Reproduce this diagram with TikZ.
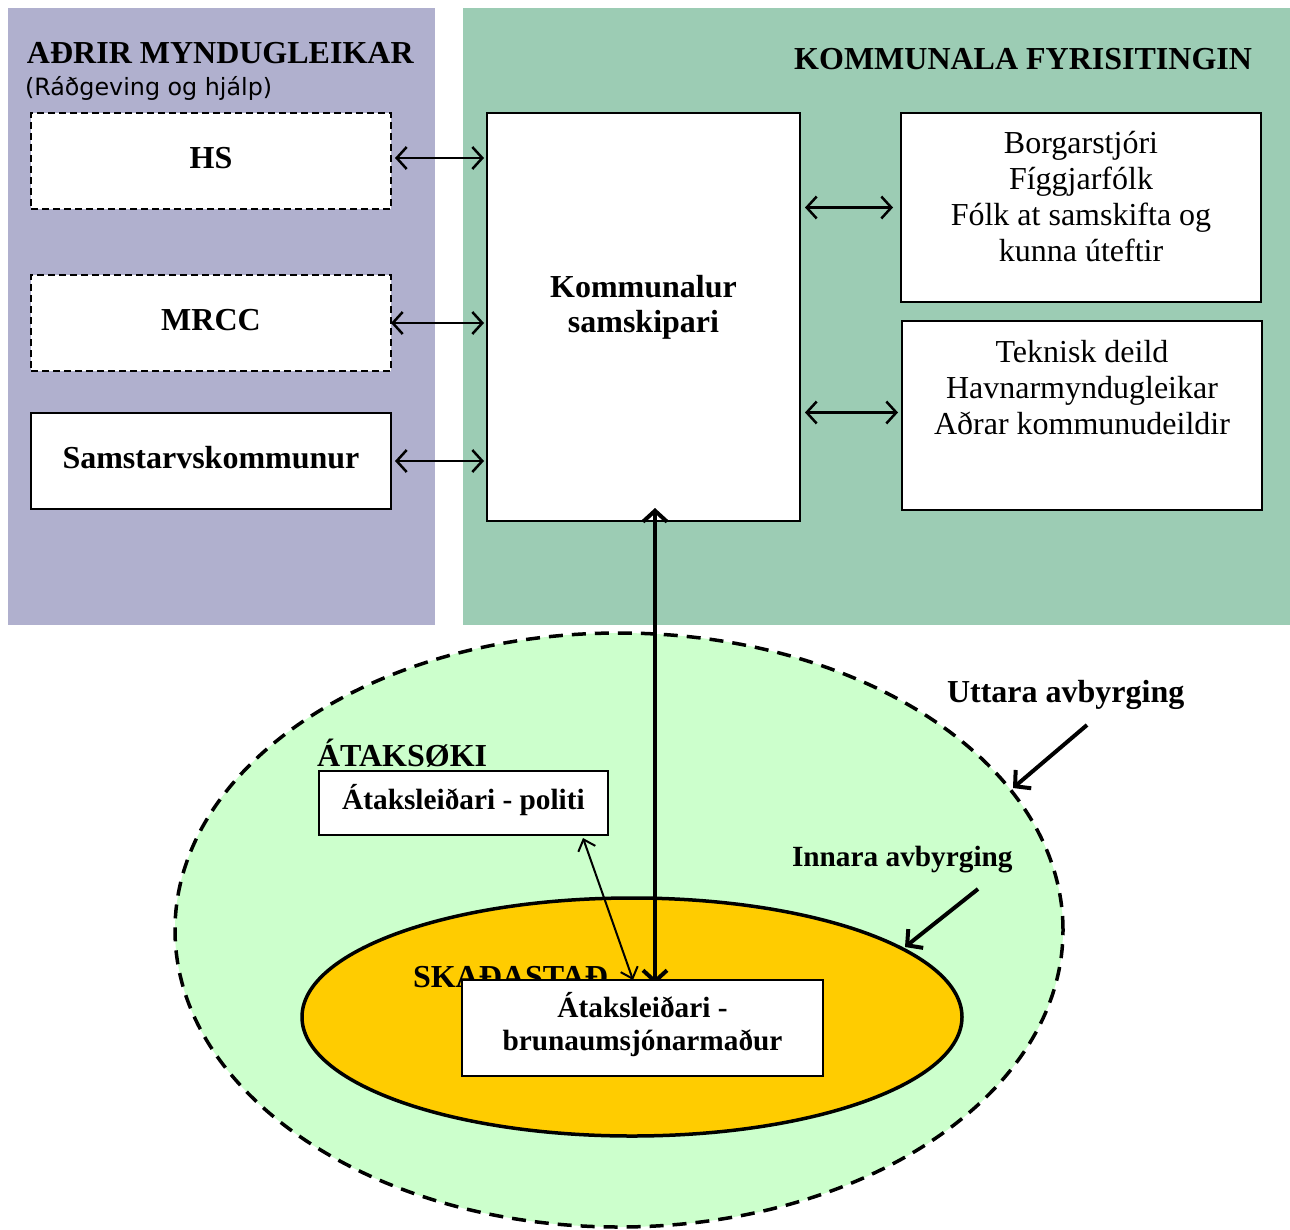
\documentclass[tikz,border=0pt]{standalone}
\usepackage{fontspec}
\setmainfont{Liberation Serif}
\newfontfamily\sansf{DejaVu Sans}
\usetikzlibrary{arrows.meta,calc}
\definecolor{leftpanel}{RGB}{176,176,206}
\definecolor{rightpanel}{RGB}{156,204,180}
\definecolor{outerzone}{RGB}{204,255,204}
\definecolor{innerzone}{RGB}{255,204,0}
\begin{document}
\begin{tikzpicture}[x=1pt,y=-1pt,
  every node/.style={inner sep=0pt, outer sep=0pt},
  regtxt/.style={font=\fontsize{32}{36}\selectfont, align=center},
  boldtxt/.style={font=\fontsize{32}{35}\selectfont\bfseries, align=center},
  smallbold/.style={font=\fontsize{29.3}{33}\selectfont\bfseries, align=center},
  box/.style={draw=black, line width=2pt, fill=white, rectangle},
  dbox/.style={box, dash pattern=on 7pt off 4pt},
  dbl/.style={line width=2.5pt, {Straight Barb[length=10pt,width=22pt]}-{Straight Barb[length=10pt,width=22pt]}},
  thinarr/.style={line width=2pt, {Straight Barb[length=10pt,width=18pt]}-{Straight Barb[length=10pt,width=18pt]}},
  thickarr/.style={line width=4pt, {Straight Barb[length=11pt,width=24pt]}-{Straight Barb[length=11pt,width=24pt]}},
  pointer/.style={line width=4pt, -{Straight Barb[length=11pt,width=24pt]}}
]
\useasboundingbox (0,0) rectangle (1290,1229);
% panels
\fill[leftpanel] (8,8) rectangle (435,625);
\fill[rightpanel] (463,8) rectangle (1290,625);

% headers
\node[boldtxt, anchor=base west] (hdrL) at (27,63) {AÐRIR MYNDUGLEIKAR};
\node[font=\sansf\fontsize{23.8}{28}\selectfont, anchor=base west] (subL) at (25,95) {(Ráðgeving og hjálp)};
\node[boldtxt, anchor=base east] (hdrR) at (1252,69) {KOMMUNALA FYRISITINGIN};

% left boxes
\node[dbox, minimum width=360pt, minimum height=96pt] (hs) at (211,161) {};
\node[boldtxt] (hst) at (211,158) {HS};
\node[dbox, minimum width=360pt, minimum height=96pt] (mrcc) at (211,323) {};
\node[boldtxt] (mrcct) at (211,320) {MRCC};
\node[box, minimum width=360pt, minimum height=96pt] (sams) at (211,461) {};
\node[boldtxt] (samst) at (211,458) {Samstarvskommunur};

% central box
\node[box, minimum width=313pt, minimum height=408pt] (ks) at (643.5,317) {};
\node[boldtxt, anchor=north] (kst) at (643.5,275) {Kommunalur\\samskipari};

% right boxes
\node[box, minimum width=360pt, minimum height=189pt] (borg) at (1081,207.5) {};
\node[regtxt, anchor=north] (borgt) at (1081,131) {Borgarstjóri\\Fíggjarfólk\\Fólk at samskifta og\\kunna úteftir};
\node[box, minimum width=360pt, minimum height=189pt] (tek) at (1082,415.5) {};
\node[regtxt, anchor=north] (tekt) at (1082,340) {Teknisk deild\\Havnarmyndugleikar\\Aðrar kommunudeildir};

% arrows to central box
\draw[dbl] ([xshift=4pt,yshift=3pt]hs.east) -- ([xshift=-3pt,yshift=3pt]ks.west |- hs.east);
\draw[dbl] ([xshift=0pt]mrcc.east) -- ([xshift=-3pt]ks.west |- mrcc.east);
\draw[dbl] ([xshift=4pt]sams.east) -- ([xshift=-3pt]ks.west |- sams.east);
\draw[dbl] ([xshift=5pt]ks.east |- borg.west) -- ([xshift=-8pt]borg.west);
\draw[dbl] ([xshift=5pt,yshift=3pt]ks.east |- tek.west) -- ([xshift=-4pt,yshift=3pt]tek.west);

% zones
\draw[fill=outerzone, line width=3.5pt, dash pattern=on 14pt off 9pt] (619,930) ellipse [x radius=444pt, y radius=297pt];
\draw[fill=innerzone, line width=3.5pt] (632,1017) ellipse [x radius=330pt, y radius=119pt];

% zone labels
\node[boldtxt, anchor=base west] (atak) at (317,766) {ÁTAKSØKI};
\node[boldtxt, anchor=base west] (skad) at (413,987) {SKAÐASTAÐ};
\node[boldtxt, anchor=base west] (utt) at (947,702) {Uttara avbyrging};
\node[smallbold, anchor=base west] (inn) at (792,866) {Innara avbyrging};
\coordinate (uttEnd) at (1013,788);
\coordinate (innEnd) at (905,947);
\draw[pointer] ($(utt.base west)+(140,23)$) -- (uttEnd);
\draw[pointer] ($(inn.base west)+(186,23)$) -- (innEnd);

% field boxes
\node[box, minimum width=289pt, minimum height=64pt] (pol) at (463.5,803) {};
\node[smallbold] (polt) at (463.5,800) {Átaksleiðari - politi};
\draw[thinarr] ($(pol.south east)+(-25,3)$) -- ($(pol.south east)+(25,145)$);
\draw[thickarr] ($(ks.south)+(11.5,463)$) -- ($(ks.south)+(11.5,-13)$);
\node[box, minimum width=361pt, minimum height=96pt] (bru) at (642.5,1028) {};
\node[smallbold] (brut) at (642.5,1025) {Átaksleiðari -\\brunaumsjónarmaður};
\end{tikzpicture}
\end{document}
